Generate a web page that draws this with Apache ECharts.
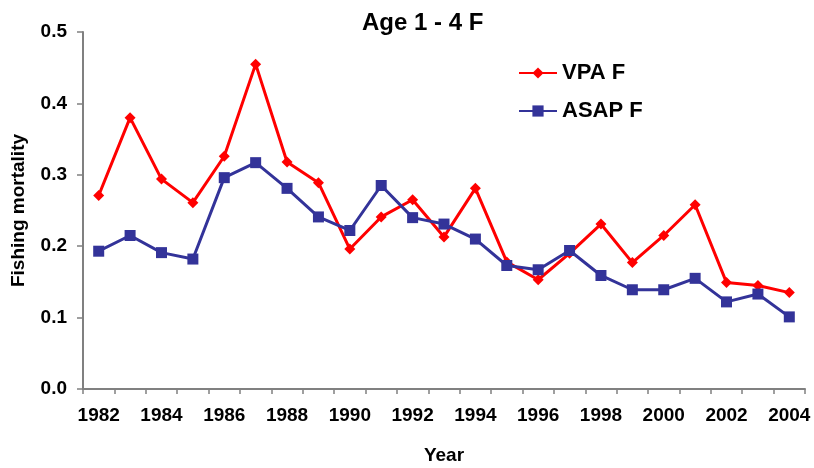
<!DOCTYPE html>
<html>
<head>
<meta charset="utf-8">
<script src="https://cdn.jsdelivr.net/npm/echarts@6/dist/echarts.min.js"></script>
<style>
  html, body { margin: 0; padding: 0; background: #fff; }
  #chart { width: 814px; height: 468px; }
</style>
</head>
<body>
<div id="chart"></div>
<script>
// Fishing mortality, ages 1-4, by year
const years = ['1982','1983','1984','1985','1986','1987','1988','1989','1990','1991','1992',
  '1993','1994','1995','1996','1997','1998','1999','2000','2001','2002','2003','2004'];
const vpaF = [0.271, 0.380, 0.294, 0.261, 0.326, 0.455, 0.318, 0.289, 0.196, 0.241, 0.265,
  0.213, 0.281, 0.178, 0.153, 0.190, 0.231, 0.177, 0.215, 0.258, 0.149, 0.145, 0.135];
const asapF = [0.193, 0.215, 0.191, 0.182, 0.296, 0.317, 0.281, 0.241, 0.222, 0.285, 0.240,
  0.231, 0.210, 0.173, 0.167, 0.194, 0.159, 0.139, 0.139, 0.155, 0.122, 0.133, 0.101];
const yTicks = [0, 0.1, 0.2, 0.3, 0.4, 0.5];

const font = 'Liberation Sans, Arial, sans-serif';
const axisGrey = '#808080';

const chart = echarts.init(document.getElementById('chart'));
chart.setOption({
  animation: false,
  backgroundColor: '#ffffff',
  title: {
    text: 'Age 1 - 4 F',
    left: 362,
    top: 11,
    padding: 0,
    textStyle: { fontFamily: font, fontWeight: 'bold', fontSize: 24, color: '#000' }
  },
  legend: {
    orient: 'vertical',
    left: 518,
    top: 62,
    padding: 0,
    itemWidth: 38,
    itemHeight: 14,
    itemGap: 16,
    textStyle: { fontFamily: font, fontWeight: 'bold', fontSize: 22, color: '#000' },
    data: ['VPA F', 'ASAP F']
  },
  grid: { left: 83, right: 9, top: 32, bottom: 79, containLabel: false, outerBoundsMode: 'none' },
  xAxis: {
    type: 'category',
    data: years,
    boundaryGap: true,
    name: 'Year',
    nameLocation: 'middle',
    nameGap: 57,
    nameTextStyle: { fontFamily: font, fontWeight: 'bold', fontSize: 19, color: '#000' },
    axisLine: { lineStyle: { color: axisGrey, width: 2 } },
    axisTick: { show: true, interval: 0, length: 5, lineStyle: { color: axisGrey, width: 1.5 } },
    axisLabel: {
      interval: 1,
      margin: 17,
      fontFamily: font, fontWeight: 'bold', fontSize: 19, color: '#000'
    },
    splitLine: { show: false }
  },
  yAxis: {
    type: 'value',
    min: yTicks[0],
    max: yTicks[yTicks.length - 1],
    interval: 0.1,
    name: 'Fishing mortality',
    nameLocation: 'middle',
    nameGap: 55,
    nameTextStyle: { fontFamily: font, fontWeight: 'bold', fontSize: 19, color: '#000' },
    axisLine: { show: true, lineStyle: { color: axisGrey, width: 2 } },
    axisTick: { show: true, length: 6, lineStyle: { color: axisGrey, width: 1.5 } },
    axisLabel: {
      margin: 16,
      fontFamily: font, fontWeight: 'bold', fontSize: 19, color: '#000',
      formatter: v => v.toFixed(1)
    },
    splitLine: { show: false }
  },
  series: [
    {
      name: 'VPA F',
      type: 'line',
      data: vpaF,
      symbol: 'diamond',
      symbolSize: 11,
      lineStyle: { color: '#ff0000', width: 3 },
      itemStyle: { color: '#ff0000' }
    },
    {
      name: 'ASAP F',
      type: 'line',
      data: asapF,
      symbol: 'rect',
      symbolSize: 11,
      lineStyle: { color: '#333399', width: 3 },
      itemStyle: { color: '#333399' }
    }
  ]
});
</script>
</body>
</html>
